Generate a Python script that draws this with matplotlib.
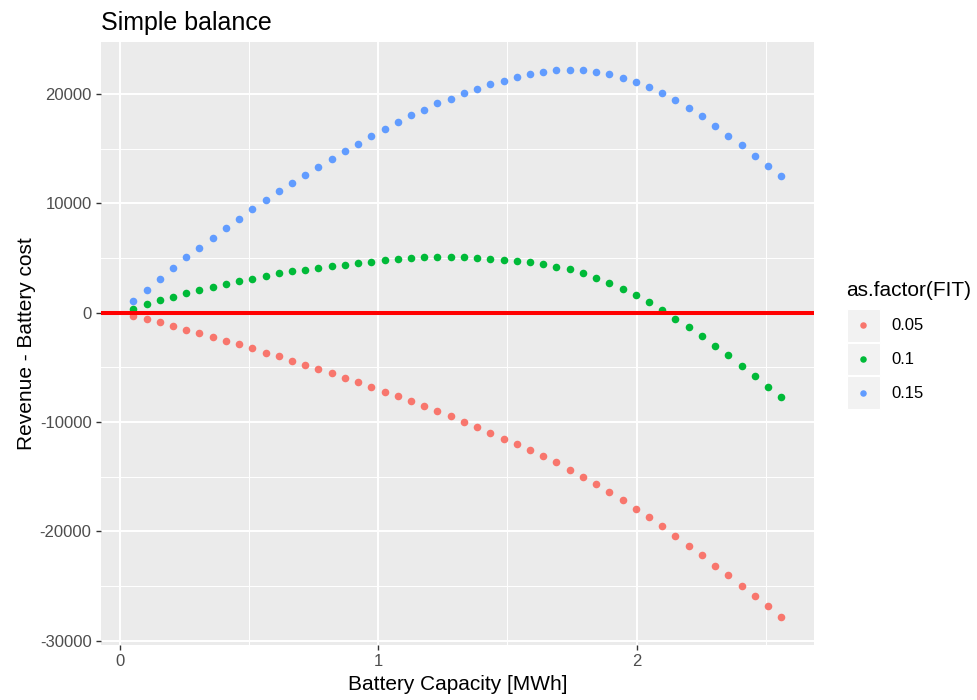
import matplotlib
matplotlib.use("Agg")
import matplotlib.pyplot as plt
from matplotlib.patches import Rectangle

plt.rcParams['font.family'] = ['Liberation Sans', 'DejaVu Sans']
plt.rcParams['axes.unicode_minus'] = False

# battery capacity grid [MWh]
capacity_mwh = [0.0512, 0.1024, 0.1536, 0.2048, 0.256, 0.3072, 0.3584, 0.4096, 0.4608, 0.512,
                0.5632, 0.6144, 0.6656, 0.7168, 0.768, 0.8192, 0.8704, 0.9216, 0.9728, 1.024,
                1.0752, 1.1264, 1.1776, 1.2288, 1.28, 1.3312, 1.3824, 1.4336, 1.4848, 1.536,
                1.5872, 1.6384, 1.6896, 1.7408, 1.792, 1.8432, 1.8944, 1.9456, 1.9968, 2.048,
                2.0992, 2.1504, 2.2016, 2.2528, 2.304, 2.3552, 2.4064, 2.4576, 2.5088, 2.56]

# revenue minus battery cost, one series per feed-in tariff
balance_005 = [-300, -610, -880, -1190, -1560, -1890, -2220, -2560, -2890, -3230,
               -3660, -3990, -4390, -4750, -5150, -5550, -5940, -6370, -6770, -7230,
               -7650, -8050, -8540, -9030, -9480, -9970, -10460, -10980, -11530, -12010,
               -12560, -13140, -13690, -14390, -15000, -15670, -16430, -17160, -17930, -18720,
               -19540, -20430, -21320, -22200, -23150, -24030, -24980, -25920, -26860, -27870]
balance_010 = [370, 770, 1130, 1460, 1780, 2080, 2350, 2600, 2900, 3080,
               3360, 3600, 3790, 3910, 4120, 4250, 4360, 4520, 4640, 4790,
               4890, 4980, 5070, 5070, 5070, 5070, 4980, 4920, 4860, 4760,
               4640, 4430, 4210, 3970, 3630, 3140, 2750, 2200, 1590, 980,
               270, -550, -1280, -2130, -3020, -3900, -4880, -5820, -6770, -7740]
balance_015 = [1070, 2080, 3080, 4090, 5070, 5920, 6860, 7750, 8570, 9460,
               10280, 11110, 11870, 12600, 13360, 14090, 14790, 15460, 16140, 16810,
               17450, 18060, 18570, 19160, 19580, 20070, 20470, 20900, 21230, 21590,
               21840, 22050, 22230, 22230, 22180, 22050, 21840, 21500, 21110, 20620,
               20070, 19460, 18700, 17970, 17080, 16170, 15320, 14360, 13420, 12480]

fit_levels = ['0.05', '0.1', '0.15']
fit_colors = ['#F8766D', '#00BA38', '#619CFF']
series = [balance_005, balance_010, balance_015]

W, H = 978, 700
fig = plt.figure(figsize=(W / 100, H / 100), dpi=100)
ax = fig.add_axes([101 / W, 1 - 644.7 / H, (813.6 - 101) / W, (644.7 - 42.3) / H])
ax.set_facecolor('#EBEBEB')
for s in ax.spines.values():
    s.set_visible(False)

for vals, col in zip(series, fit_colors):
    ax.scatter(capacity_mwh, vals, s=30, color=col, linewidths=0, zorder=3)
ax.axhline(0, color='red', lw=2.9, zorder=4)
ax.margins(0.05)

ax.set_xticks([0, 1, 2])
ax.set_xticks([0.5, 1.5, 2.5], minor=True)
ax.set_yticks([-30000, -20000, -10000, 0, 10000, 20000])
ax.set_yticks([-25000, -15000, -5000, 5000, 15000], minor=True)
ax.grid(which='major', color='white', lw=1.4)
ax.grid(which='minor', color='white', lw=0.7)
ax.set_axisbelow(True)
ax.tick_params(which='major', direction='out', length=3.8, width=1.0, color='#333333',
               labelsize=12, labelcolor='#4D4D4D', pad=3)
ax.tick_params(which='minor', length=0)

ax.set_xlabel('Battery Capacity [MWh]', fontsize=15, labelpad=4)
ax.set_ylabel('Revenue - Battery cost', fontsize=15, labelpad=3)
ax.set_title('Simple balance', fontsize=18, loc='left', x=0, pad=9)

# legend drawn in pixel coordinates
lg = fig.add_axes([0, 0, 1, 1], facecolor='none')
lg.set_xlim(0, W)
lg.set_ylim(H, 0)
lg.axis('off')
lg.text(846, 290, 'as.factor(FIT)', fontsize=15, va='center', ha='left')
for i, (lab, col) in enumerate(zip(fit_levels, fit_colors)):
    y0 = 309 + i * 33.6
    lg.add_patch(Rectangle((846.5, y0), 33, 32.5, facecolor='#F2F2F2', edgecolor='white', lw=0.8))
    lg.scatter([863], [y0 + 16.3], s=22, color=col, linewidths=0)
    lg.text(891, y0 + 17, lab, fontsize=12, va='center', ha='left')

fig.savefig('out.png', dpi=100)
